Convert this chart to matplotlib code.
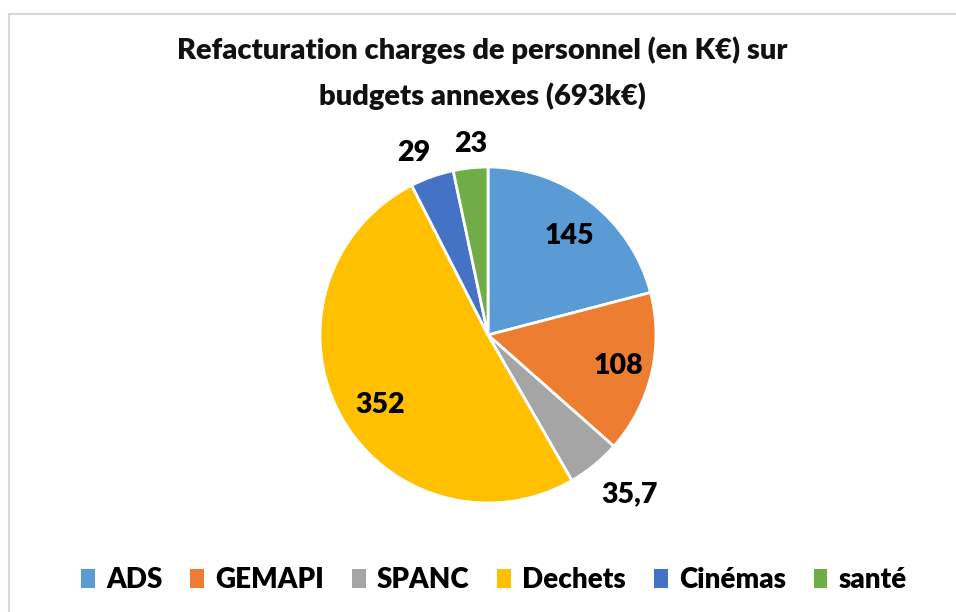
import matplotlib
matplotlib.use("Agg")
import matplotlib.pyplot as plt
from matplotlib.lines import Line2D
import numpy as np

categories = ["ADS", "GEMAPI", "SPANC", "Dechets", "Cinémas", "santé"]
values = [145, 108, 35.7, 352, 29, 23]
value_labels = ["145", "108", "35,7", "352", "29", "23"]
colors = ["#5B9BD5", "#ED7D31", "#A5A5A5", "#FFC000", "#4472C4", "#70AD47"]
title = "Refacturation charges de personnel (en K€) sur\nbudgets annexes (693k€)"

FONT = ["Lato", "DejaVu Sans"]
W, H = 956, 612
fig = plt.figure(figsize=(W / 100, H / 100), dpi=100)
fig.patch.set_facecolor("white")

# border of chart area
fig.add_artist(Line2D([9 / W, 9 / W], [0, 1 - 14 / H], color="#D9D9D9", lw=1.5))
fig.add_artist(Line2D([9 / W, 1], [1 - 14 / H, 1 - 14 / H], color="#D9D9D9", lw=1.5))

cx, cy, r = 488, 335, 168
ax = fig.add_axes([(cx - r) / W, (H - cy - r) / H, 2 * r / W, 2 * r / H])
wedges, _ = ax.pie(values, colors=colors, startangle=90, counterclock=False,
                   wedgeprops=dict(edgecolor="white", linewidth=2))
ax.set_xlim(-1, 1)
ax.set_ylim(-1, 1)
ax.set_aspect("equal")
ax.axis("off")

# label placement (radius fraction, angular nudge in degrees)
label_r = [0.76, 0.795, 1.265, 0.766, 1.17, 1.14]
label_dang = [-1.6, 0.0, 2.4, 4.5, 2.6, -0.9]
for w, lab, lr, da in zip(wedges, value_labels, label_r, label_dang):
    ang = np.deg2rad((w.theta1 + w.theta2) / 2 + da)
    ax.text(lr * np.cos(ang), lr * np.sin(ang), lab, ha="center", va="center",
            fontsize=20.5, fontweight="heavy", family=FONT, color="black", clip_on=False)

fig.text(482 / W, 1 - 73 / H, title, ha="center", va="center", fontsize=21,
         fontweight="heavy", family=FONT, linespacing=1.8, color="#111111")

leg = fig.legend(wedges, categories, loc="center", bbox_to_anchor=(494 / W, 1 - 580 / H),
                 ncol=6, frameon=False, handlelength=0.5, handleheight=0.7,
                 handletextpad=0.4, columnspacing=1.0,
                 prop=dict(family=FONT, size=20, weight="heavy"))
for p in leg.get_patches():
    p.set_edgecolor("none")

fig.savefig("out.png", dpi=100, facecolor="white")
